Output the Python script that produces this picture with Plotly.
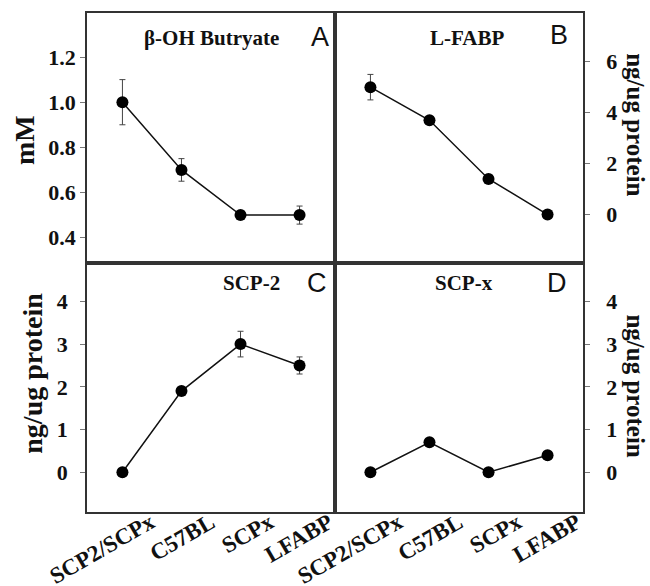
import plotly.graph_objects as go

categories = ["SCP2/SCPx", "C57BL", "SCPx", "LFABP"]
butyrate = [1.0, 0.7, 0.5, 0.5]
butyrate_err = [0.1, 0.05, 0.0, 0.04]
lfabp = [5.0, 3.7, 1.4, 0.0]
lfabp_err = [0.5, 0.0, 0.0, 0.0]
scp2 = [0.0, 1.9, 3.0, 2.5]
scp2_err = [0.0, 0.0, 0.3, 0.2]
scpx = [0.0, 0.7, 0.0, 0.4]
scpx_err = [0.0, 0.0, 0.0, 0.0]

ticks_a = [0.4, 0.6, 0.8, 1.0, 1.2]
ticks_b = [0, 2, 4, 6]
ticks_cd = [0, 1, 2, 3, 4]

xpos = list(range(len(categories)))
SERIF = "Liberation Serif"
INK = "#111111"

fig = go.Figure()

panels = [
    (butyrate, butyrate_err, "x", "y"),
    (lfabp, lfabp_err, "x2", "y2"),
    (scp2, scp2_err, "x3", "y3"),
    (scpx, scpx_err, "x4", "y4"),
]
for vals, errs, xa, ya in panels:
    fig.add_trace(go.Scatter(
        x=xpos, y=vals, xaxis=xa, yaxis=ya, mode="lines+markers",
        line=dict(color=INK, width=1.5),
        marker=dict(color="black", size=12),
        error_y=dict(type="data", array=errs, visible=True,
                     color="#444", thickness=1, width=3),
        showlegend=False, hoverinfo="skip",
    ))

frame = dict(showline=True, mirror=True, linecolor="#333", linewidth=1.5,
             showgrid=False, zeroline=False, automargin=False)
tickfont = dict(family=SERIF, size=22, color=INK, weight="bold")

xcommon = dict(range=[-0.6, 3.6], showticklabels=False, ticks="", **frame)
fig.update_layout(
    width=650, height=586,
    margin=dict(l=87, r=67, t=13, b=74),
    paper_bgcolor="white", plot_bgcolor="white",
    xaxis=dict(domain=[0, 0.5], anchor="y", **xcommon),
    xaxis2=dict(domain=[0.5, 1], anchor="y2", **xcommon),
    xaxis3=dict(domain=[0, 0.5], anchor="y3", **xcommon),
    xaxis4=dict(domain=[0.5, 1], anchor="y4", **xcommon),
    yaxis=dict(domain=[0.5, 1], anchor="x", range=[0.29, 1.395], tickvals=ticks_a,
               tickformat=".1f", ticks="outside", ticklen=5, tickcolor="#777",
               tickfont=tickfont, side="left", **frame),
    yaxis2=dict(domain=[0.5, 1], anchor="x2", range=[-1.88, 7.91], tickvals=ticks_b,
                ticks="outside", ticklen=5, tickcolor="#777", tickfont=tickfont,
                side="right", ticklabelstandoff=12, **frame),
    yaxis3=dict(domain=[0, 0.5], anchor="x3", range=[-0.93, 4.91], tickvals=ticks_cd,
                ticks="outside", ticklen=5, tickcolor="#777", tickfont=tickfont,
                side="left", ticklabelstandoff=8, **frame),
    yaxis4=dict(domain=[0, 0.5], anchor="x4", range=[-0.93, 4.91], tickvals=ticks_cd,
                ticks="outside", ticklen=5, tickcolor="#777", tickfont=tickfont,
                side="right", ticklabelstandoff=12, **frame),
)

title_font = dict(family=SERIF, size=21, color=INK)
letter_font = dict(family="Liberation Sans", size=27, color=INK)
axis_title_font = dict(family=SERIF, size=28, color=INK)
right_title_font = dict(family=SERIF, size=25, color=INK)
xlabel_font = dict(family=SERIF, size=23, color=INK)

ann = [
    dict(text="<b>β-OH Butryate</b>", x=0.252, y=0.95, font=title_font),
    dict(text="<b>L-FABP</b>", x=0.767, y=0.95, font=title_font),
    dict(text="<b>SCP-2</b>", x=0.331, y=0.458, font=title_font),
    dict(text="<b>SCP-x</b>", x=0.760, y=0.458, font=title_font),
    dict(text="A", x=0.470, y=0.952, font=letter_font),
    dict(text="B", x=0.951, y=0.956, font=letter_font),
    dict(text="C", x=0.464, y=0.459, font=letter_font),
    dict(text="D", x=0.947, y=0.459, font=letter_font),
    dict(text="<b>mM</b>", x=-0.125, y=0.7455, textangle=-90, font=axis_title_font),
    dict(text="<b>ng/ug protein</b>", x=-0.109, y=0.279, textangle=-90, font=axis_title_font),
    dict(text="<b>ng/ug protein</b>", x=1.106, y=0.776, textangle=90, font=right_title_font),
    dict(text="<b>ng/ug protein</b>", x=1.106, y=0.2525, textangle=90, font=right_title_font),
]
for a in ann:
    fig.add_annotation(xref="paper", yref="paper", showarrow=False,
                       xanchor="center", yanchor="middle", **a)

# rotated category labels under the two bottom panels
for xref in ("x3", "x4"):
    for i, cat in zip(xpos, categories):
        fig.add_annotation(text=f"<b>{cat}</b>", xref=xref, yref="paper",
                           x=i, y=0, xanchor="right", yanchor="top",
                           xshift=40, yshift=6, textangle=-30,
                           showarrow=False, font=xlabel_font)

fig.write_html("out.html", config={"displayModeBar": False},
               post_script="document.body.style.margin='0';")
